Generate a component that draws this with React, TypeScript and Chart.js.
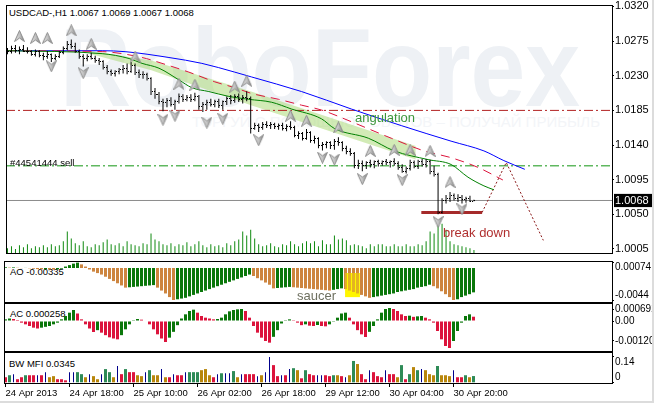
import React, { useEffect, useRef } from "react";
import { Chart, registerables } from "chart.js";

Chart.register(...registerables);

// ---------------- data ----------------
const TITLE = "USDCAD-,H1  1.0067 1.0069 1.0067 1.0068";
const ORDER_LABEL = "#44541444 sell";
const AO_LABEL = "AO -0.00335";
const AC_LABEL = "AC 0.000258";
const MFI_LABEL = "BW MFI 0.0345";

const OPEN = [
  1.0262, 1.0261, 1.0266, 1.0263, 1.0264, 1.0262, 1.0261, 1.0258, 1.0262, 1.0256,
  1.0255, 1.0257, 1.0253, 1.0255, 1.026, 1.0266, 1.0271, 1.0268, 1.0262, 1.0255,
  1.0253, 1.0255, 1.0253, 1.025, 1.0248, 1.0241, 1.0235, 1.0233, 1.0235, 1.0238,
  1.024, 1.0236, 1.0243, 1.0234, 1.0231, 1.0232, 1.0226, 1.0209, 1.0206, 1.0197,
  1.0195, 1.0198, 1.0193, 1.0196, 1.0203, 1.0199, 1.0202, 1.0199, 1.0203, 1.019,
  1.0193, 1.0195, 1.0193, 1.0197, 1.0191, 1.0196, 1.02, 1.0198, 1.0203, 1.0199,
  1.0202, 1.02, 1.0162, 1.0166, 1.0163, 1.0167, 1.0165, 1.0167, 1.0164, 1.0165,
  1.0162, 1.0164, 1.0163, 1.0153, 1.0155, 1.0149, 1.0156, 1.0146, 1.0148, 1.0139,
  1.0141, 1.0143, 1.014, 1.0145, 1.0143, 1.0135, 1.0132, 1.0129, 1.0113, 1.0116,
  1.0114, 1.0117, 1.0115, 1.0118, 1.0116, 1.0119, 1.0117, 1.0118, 1.0116, 1.0111,
  1.0106, 1.0109, 1.0117, 1.0112, 1.0119, 1.0115, 1.0118, 1.0106, 1.0102, 1.0053,
  1.0068, 1.007, 1.0074, 1.0071, 1.0072, 1.0069, 1.007, 1.0067,
];
const HIGH = [
  1.0266, 1.0269, 1.027, 1.0268, 1.027, 1.0267, 1.0263, 1.0264, 1.0263, 1.026,
  1.0262, 1.0259, 1.0258, 1.0262, 1.0268, 1.0275, 1.0277, 1.0273, 1.0264, 1.0258,
  1.0258, 1.026, 1.0256, 1.0253, 1.025, 1.0244, 1.0238, 1.0237, 1.024, 1.0244,
  1.0246, 1.0248, 1.0246, 1.0238, 1.0236, 1.0234, 1.0228, 1.0214, 1.0209, 1.02,
  1.0201, 1.0202, 1.0199, 1.0207, 1.0206, 1.0205, 1.0206, 1.0208, 1.0205, 1.0196,
  1.0199, 1.02, 1.0199, 1.02, 1.0198, 1.0203, 1.0205, 1.0206, 1.0207, 1.0205,
  1.021, 1.0203, 1.0169, 1.0168, 1.017, 1.0171, 1.017, 1.0169, 1.0168, 1.0169,
  1.0167, 1.0171, 1.0165, 1.0158, 1.0157, 1.0161, 1.0158, 1.0152, 1.015, 1.0144,
  1.0145, 1.0145, 1.0148, 1.015, 1.0145, 1.0139, 1.0136, 1.0131, 1.0121, 1.012,
  1.0119, 1.0121, 1.012, 1.0121, 1.012, 1.0122, 1.012, 1.0123, 1.0119, 1.0115,
  1.0112, 1.0121, 1.012, 1.0121, 1.0122, 1.0122, 1.0121, 1.0113, 1.0104, 1.0071,
  1.0075, 1.0079, 1.0077, 1.0076, 1.0075, 1.0073, 1.0074, 1.0069,
];
const LOW = [
  1.0258, 1.0259, 1.026, 1.0258, 1.0261, 1.0259, 1.0256, 1.0255, 1.0254, 1.025,
  1.0252, 1.0248, 1.025, 1.0253, 1.0258, 1.0263, 1.0265, 1.026, 1.0252, 1.0242,
  1.0249, 1.0251, 1.0247, 1.0244, 1.0238, 1.0232, 1.023, 1.0229, 1.0232, 1.0233,
  1.0232, 1.0234, 1.0231, 1.0227, 1.0226, 1.0224, 1.0205, 1.02, 1.0193, 1.0184,
  1.0189, 1.019, 1.0186, 1.0194, 1.0196, 1.0197, 1.0196, 1.0197, 1.0186, 1.0183,
  1.0186, 1.019, 1.0189, 1.0188, 1.0186, 1.0192, 1.0193, 1.0195, 1.0196, 1.0194,
  1.0197, 1.0155, 1.016, 1.0157, 1.016, 1.0162, 1.0161, 1.0161, 1.016, 1.0159,
  1.0158, 1.016, 1.015, 1.0148, 1.0146, 1.0147, 1.0143, 1.0142, 1.0136, 1.0133,
  1.0136, 1.0135, 1.0134, 1.0139, 1.0132, 1.0128, 1.0126, 1.011, 1.0109, 1.0106,
  1.0109, 1.0111, 1.011, 1.0112, 1.0113, 1.0114, 1.0111, 1.0113, 1.0108, 1.0104,
  1.0103, 1.0107, 1.011, 1.0109, 1.0112, 1.0111, 1.0102, 1.0099, 1.005, 1.0051,
  1.0064, 1.0066, 1.0068, 1.0066, 1.0064, 1.0065, 1.0066, 1.0067,
];
const CLOSE = [
  1.0261, 1.0266, 1.0263, 1.0264, 1.0262, 1.0261, 1.0258, 1.0262, 1.0256, 1.0255,
  1.0257, 1.0253, 1.0255, 1.026, 1.0266, 1.0271, 1.0268, 1.0262, 1.0255, 1.0253,
  1.0255, 1.0253, 1.025, 1.0248, 1.0241, 1.0235, 1.0233, 1.0235, 1.0238, 1.024,
  1.0236, 1.0243, 1.0234, 1.0231, 1.0232, 1.0226, 1.0209, 1.0206, 1.0197, 1.0195,
  1.0198, 1.0193, 1.0196, 1.0203, 1.0199, 1.0202, 1.0199, 1.0203, 1.019, 1.0193,
  1.0195, 1.0193, 1.0197, 1.0191, 1.0196, 1.02, 1.0198, 1.0203, 1.0199, 1.0202,
  1.02, 1.0162, 1.0166, 1.0163, 1.0167, 1.0165, 1.0167, 1.0164, 1.0165, 1.0162,
  1.0164, 1.0163, 1.0153, 1.0155, 1.0149, 1.0156, 1.0146, 1.0148, 1.0139, 1.0141,
  1.0143, 1.014, 1.0145, 1.0143, 1.0135, 1.0132, 1.0129, 1.0113, 1.0116, 1.0114,
  1.0117, 1.0115, 1.0118, 1.0116, 1.0119, 1.0117, 1.0118, 1.0116, 1.0111, 1.0106,
  1.0109, 1.0117, 1.0112, 1.0119, 1.0115, 1.0118, 1.0106, 1.0102, 1.0053, 1.0068,
  1.007, 1.0074, 1.0071, 1.0072, 1.0069, 1.007, 1.0067, 1.0068,
];
const VOLUME = [
  500, 700, 400, 800, 600, 900, 500, 700, 600, 800,
  600, 900, 700, 800, 1200, 2200, 1500, 1000, 800, 1200,
  700, 600, 900, 800, 1100, 1400, 900, 800, 1000, 700,
  1200, 900, 800, 700, 1000, 900, 2000, 1400, 1200, 900,
  800, 1000, 700, 900, 800, 1100, 700, 900, 1200, 800,
  600, 900, 700, 800, 600, 1000, 800, 1200, 1400, 2200,
  1800, 2400, 1500, 900, 700, 800, 1000, 700, 600, 900,
  800, 1200, 900, 700, 1000, 1200, 1000, 1200, 700, 1300,
  900, 900, 1800, 1400, 1500, 1300, 800, 900, 800, 700,
  500, 900, 700, 900, 900, 700, 700, 900, 700, 700,
  900, 700, 700, 900, 800, 1200, 2200, 2000, 3300, 3000,
  2400, 1200, 900, 800, 700, 600, 500, 300,
];

// Alligator lines (bar index, price)
const JAW_X = [0, 23.75, 29.5, 40.5, 48.75, 57, 61.25, 73.75, 86.25, 98.75, 111.25, 119.5, 124.5, 129.75];
const JAW_Y = [1.02625, 1.02625, 1.02613, 1.02537, 1.02461, 1.02347, 1.02284, 1.02095, 1.01868, 1.01653, 1.01451, 1.01324, 1.01198, 1.01085];
const TEETH_X = [0, 23.75, 33.75, 38.75, 45.5, 52, 57, 61.25, 68, 73.75, 78.75, 86.25, 96.25, 104.5, 111.25, 118, 124.25];
const TEETH_Y = [1.02625, 1.02613, 1.02537, 1.02461, 1.02347, 1.02221, 1.02145, 1.0207, 1.01994, 1.01918, 1.01855, 1.01703, 1.01489, 1.01324, 1.01236, 1.0111, 1.00946];
const LIPS_X = [0, 23.75, 30.5, 33.75, 38, 43, 46.25, 50.5, 55.5, 60.5, 66.25, 71.25, 78.75, 82, 90.5, 97, 105.5, 111.25, 115.5, 119.5, 122];
const LIPS_Y = [1.02625, 1.02587, 1.02524, 1.02461, 1.02398, 1.02246, 1.02145, 1.02095, 1.02032, 1.01994, 1.01956, 1.01868, 1.01741, 1.01615, 1.01489, 1.01324, 1.01211, 1.01148, 1.00983, 1.0087, 1.00819];

// Fractals
const FR_UP_X = [3, 7, 10, 16, 21, 32, 43, 47, 57, 60, 71, 75, 83, 91, 97, 101, 106, 111];
const FR_UP_Y = [1.02815, 1.0279, 1.0279, 1.0289, 1.02714, 1.0255, 1.02196, 1.02183, 1.02158, 1.02234, 1.0178, 1.01716, 1.01628, 1.01324, 1.01337, 1.01337, 1.01324, 1.0092];
const FR_DN_X = [11, 19, 39, 42, 50, 54, 63, 79, 82, 89, 99, 108, 114];
const FR_DN_Y = [1.02423, 1.02335, 1.01729, 1.0178, 1.01691, 1.01741, 1.01463, 1.01236, 1.01211, 1.00958, 1.00945, 1.00402, 1.00567];

// Levels and drawn objects
const RESIST_LEVEL = 1.0185;
const ORDER_LEVEL = 1.0113;
const BID = 1.0068;
const WEDGE_X = [20.6, 36.1, 61.1, 102.4];
const WEDGE_TOP = [1.02625, 1.02499, 1.02095, 1.01387];
const WEDGE_BOTTOM = [1.02587, 1.02373, 1.01918, 1.01211];
const BREAK_X = [103.8, 119.05];
const BREAK_LEVEL = 1.00525;
const PROJ_X = [119.05, 125.1, 134.4];
const PROJ_Y = [1.00525, 1.01173, 1.00162];

// Indicators
const AO = [
  0.0001, 0.00005, 0.00008, 0.00003, -0.00002, 0.00001, -0.00004, -0.0001, -0.00015, -0.00018,
  -0.00016, -0.0002, -0.00022, -0.00018, -0.0001, 0.0002, 0.0004, 0.0006, 0.00074, 0.0005,
  0.0002, -0.0002, -0.0005, -0.0007, -0.0009, -0.0012, -0.0015, -0.0018, -0.0021, -0.0024,
  -0.0027, -0.00265, -0.0026, -0.00255, -0.0025, -0.00245, -0.0024, -0.00235, -0.0027, -0.0031,
  -0.0035, -0.004, -0.0044, -0.0043, -0.0042, -0.0041, -0.0039, -0.0037, -0.0035, -0.0033,
  -0.0031, -0.0029, -0.0027, -0.0025, -0.0023, -0.0021, -0.0019, -0.0017, -0.0015, -0.0013,
  -0.0011, -0.0009, -0.0011, -0.0014, -0.0017, -0.002, -0.0023, -0.0028, -0.00275, -0.0027,
  -0.00265, -0.0026, -0.00265, -0.0027, -0.00275, -0.0028, -0.00285, -0.0029, -0.00295, -0.003,
  -0.00305, -0.0031, -0.003, -0.0029, -0.0028, -0.0029, -0.0031, -0.0033, -0.0035, -0.0037,
  -0.0039, -0.0041, -0.004, -0.0039, -0.0038, -0.0037, -0.0036, -0.0035, -0.0033, -0.0032,
  -0.0031, -0.003, -0.0029, -0.0027, -0.0026, -0.0025, -0.0023, -0.0025, -0.0028, -0.0032,
  -0.0036, -0.004, -0.0044, -0.0043, -0.004, -0.0038, -0.0036, -0.00335,
];
const AC = [
  0.0001, 0.00015, 0.00012, 0.00006, -0.0001, -0.0002, -0.0003, -0.0004, -0.00045, -0.0004,
  -0.00035, -0.0003, -0.0002, -0.0001, 0.0001, 0.0003, 0.0005, 0.00066, 0.00045, 0.0001,
  -0.0002, -0.00045, -0.00066, -0.00055, -0.0007, -0.00085, -0.00098, -0.00105, -0.0011, -0.00085,
  -0.0005, -0.0002, 0.00005, 0.00012, 0.00008, 0.00003, -0.0002, -0.0005, -0.0008, -0.00105,
  -0.00126, -0.001, -0.00065, -0.00025, 0.00015, 0.0004, 0.0006, 0.00068, 0.0005, 0.0003,
  0.0002, 0.00015, 0.0001, 0.00012, 0.0002, 0.0004, 0.00058, 0.00066, 0.0007, 0.00072,
  0.0006, 0.0002, -0.0003, -0.0007, -0.001, -0.0012, -0.0013, -0.00095, -0.00055, -0.00015,
  0.00005, 0.0001, 0.00005, -0.0001, -0.00025, -0.0002, -0.00028, -0.0003, -0.00024, -0.0003,
  -0.00032, -0.0002, -0.00005, 0.0002, 0.00045, 0.0005, 0.0002, -0.0002, -0.00055, -0.0008,
  -0.00096, -0.00065, -0.0003, 0.0001, 0.0005, 0.00072, 0.00078, 0.00072, 0.0006, 0.0004,
  0.0003, 0.00032, 0.00025, 0.00028, 0.0003, 0.0002, 0.0001, -0.0001, -0.0006, -0.0011,
  -0.0015, -0.00162, -0.0012, -0.0006, -0.0001, 0.0003, 0.0004, 0.000258,
];
const MFI = [
  0.028, 0.039, 0.045, 0.017, 0.028, 0.039, 0.039, 0.039, 0.039, 0.039,
  0.056, 0.028, 0.034, 0.017, 0.017, 0.011, 0.056, 0.056, 0.056, 0.045,
  0.028, 0.045, 0.034, 0.017, 0.045, 0.073, 0.056, 0.028, 0.09, 0.045,
  0.073, 0.056, 0.056, 0.039, 0.034, 0.056, 0.067, 0.039, 0.039, 0.073,
  0.028, 0.028, 0.045, 0.039, 0.039, 0.056, 0.056, 0.056, 0.056, 0.067,
  0.073, 0.039, 0.028, 0.045, 0.05, 0.05, 0.05, 0.062, 0.028, 0.045,
  0.045, 0.045, 0.045, 0.034, 0.039, 0.056, 0.14, 0.095, 0.034, 0.039,
  0.039, 0.073, 0.078, 0.067, 0.022, 0.067, 0.045, 0.039, 0.039, 0.039,
  0.039, 0.034, 0.039, 0.039, 0.034, 0.028, 0.039, 0.118, 0.101, 0.045,
  0.017, 0.067, 0.056, 0.034, 0.028, 0.067, 0.045, 0.045, 0.028, 0.095,
  0.017, 0.045, 0.084, 0.067, 0.073, 0.067, 0.045, 0.039, 0.09, 0.039,
  0.039, 0.034, 0.067, 0.028, 0.028, 0.039, 0.028, 0.0345,
];
// g = green (up/up), o = fade, b = fake, r = squat
const MFI_TYPE = [
  "r", "g", "b", "r", "r", "g", "r", "r", "b", "r",
  "b", "o", "o", "r", "r", "r", "b", "b", "g", "g",
  "o", "b", "o", "o", "b", "g", "g", "o", "b", "r",
  "g", "r", "r", "o", "o", "b", "g", "o", "o", "b",
  "o", "r", "b", "r", "r", "b", "g", "g", "g", "o",
  "o", "o", "r", "b", "g", "b", "b", "g", "o", "b",
  "r", "r", "r", "b", "o", "b", "b", "r", "r", "b",
  "r", "b", "g", "o", "r", "g", "r", "r", "b", "b",
  "r", "r", "g", "o", "r", "b", "o", "g", "o", "r",
  "r", "b", "r", "r", "r", "b", "r", "r", "o", "g",
  "r", "g", "o", "g", "b", "o", "o", "o", "g", "o",
  "o", "o", "b", "r", "r", "g", "o", "g",
];
const SAUCER_BOX = { x0: 84.9, x1: 88.6, top: -0.00069, bottom: -0.004 };

// Axis ticks / labels
const PRICE_TICKS = [1.032, 1.0275, 1.023, 1.0185, 1.014, 1.0095, 1.0068, 1.005, 1.0005];
const AO_TICKS = [0.00074, -0.0044];
const AO_TICK_LABELS = ["0.00074", "-0.0044"];
const AC_TICKS = [0.000692, 0, -0.0012];
const AC_TICK_LABELS = ["0.000692", "0.00", "-0.00120"];
const MFI_TICKS = [0.14, 0];
const MFI_TICK_LABELS = ["0.14", "0"];
const TIME_TICKS = [0, 16, 32, 48, 64, 80, 96, 112];
const TIME_LABELS = ["24 Apr 2013", "24 Apr 18:00", "25 Apr 10:00", "26 Apr 02:00", "26 Apr 18:00", "29 Apr 12:00", "30 Apr 04:00", "30 Apr 20:00"];

// ---------------- styles / scale ranges ----------------
const FONT = "'Liberation Sans', Arial, Helvetica, sans-serif";
const X_MIN = -0.375;
const X_MAX = 151.625;
const PRICE_MIN = 0.99998;
const PRICE_MAX = 1.03206;
const VOL_MAX = 25400;
const AO_MIN = -0.004675, AO_MAX = 0.000825;
const AC_MIN = -0.0018, AC_MAX = 0.00102;
const MFI_MIN = -0.0039, MFI_MAX = 0.162;
const AXIS_W = 42;
const C_GREEN = "#0a770a";
const C_ORANGE = "#cd853f";
const C_RED = "#dc143c";
const MFI_COLORS: any = { g: "#2e8b57", o: "#b8860b", b: "#00008b", r: "#dc143c" };

Chart.defaults.font.family = FONT;

const xHidden: any = { type: "linear", min: X_MIN, max: X_MAX, display: false, offset: false, grid: { offset: false } };

const noPad = (s: any) => {
  s.paddingTop = 0;
  s.paddingBottom = 0;
  s.paddingLeft = 0;
  s.paddingRight = 0;
};

function rightAxis(min: number, max: number, ticks: number[], labels: string[], extra: any = {}) {
  return {
    type: "linear",
    position: "right",
    min,
    max,
    weight: extra.weight ?? 1,
    afterBuildTicks: (s: any) => {
      s.ticks = ticks.map((v) => ({ value: v }));
    },
    afterFit: (s: any) => {
      s.width = extra.width ?? AXIS_W;
      noPad(s);
    },
    border: { display: false },
    grid: { drawOnChartArea: false, drawTicks: true, tickLength: 2, color: "#000" },
    ticks: {
      autoSkip: false,
      padding: 1,
      color: "#000",
      align: extra.align ?? "center",
      font: { family: FONT, size: extra.size ?? 10 },
      callback: (v: any) => labels[ticks.indexOf(v)],
    },
  };
}

// the zero-width inner axis shares the label column of the outer axis
const widenInner = {
  id: "widenInner",
  afterLayout(chart: any) {
    const s = chart.scales.yIn;
    if (s) s.right = s.left + AXIS_W;
  },
};

const framePlugin = {
  id: "frame",
  afterDraw(chart: any) {
    const { ctx, chartArea: a } = chart;
    ctx.save();
    ctx.strokeStyle = "#000";
    ctx.lineWidth = 1;
    const l = Math.round(a.left), t = Math.round(a.top), r = Math.round(a.right), b = Math.round(a.bottom);
    ctx.strokeRect(l + 0.5, t - 0.5, r - l, b - t + 1);
    ctx.restore();
  },
};

function makeArrow(up: boolean) {
  const c = document.createElement("canvas");
  c.width = 11;
  c.height = 12;
  const g = c.getContext("2d") as CanvasRenderingContext2D;
  g.beginPath();
  if (up) {
    g.moveTo(5.5, 0.5);
    g.lineTo(10.5, 11.5);
    g.lineTo(5.5, 8);
    g.lineTo(0.5, 11.5);
  } else {
    g.moveTo(5.5, 11.5);
    g.lineTo(10.5, 0.5);
    g.lineTo(5.5, 4);
    g.lineTo(0.5, 0.5);
  }
  g.closePath();
  const grad = g.createLinearGradient(0, 0, 11, 0);
  grad.addColorStop(0, "#e6e6e6");
  grad.addColorStop(0.5, "#c4c4c4");
  grad.addColorStop(1, "#7d7d7d");
  g.fillStyle = grad;
  g.fill();
  g.strokeStyle = "#8c8c8c";
  g.lineWidth = 1;
  g.stroke();
  return c;
}

const baseOptions = (padding: any) => ({
  responsive: false,
  animation: false,
  devicePixelRatio: 1,
  events: [],
  layout: { padding },
  plugins: { legend: { display: false }, tooltip: { enabled: false } },
});

const lineDs = (xs: number[], ys: number[], extra: any) => ({
  type: "line",
  data: xs.map((x, k) => ({ x, y: ys[k] })),
  pointRadius: 0,
  borderWidth: 1,
  fill: false,
  yAxisID: "y",
  ...extra,
});

export default function App() {
  const mainRef = useRef<HTMLCanvasElement>(null);
  const aoRef = useRef<HTMLCanvasElement>(null);
  const acRef = useRef<HTMLCanvasElement>(null);
  const mfiRef = useRef<HTMLCanvasElement>(null);

  useEffect(() => {
    const charts: Chart[] = [];
    const upImg = makeArrow(true);
    const dnImg = makeArrow(false);

    const ohlcTicks = {
      id: "ohlcTicks",
      afterDatasetsDraw(chart: any) {
        const xs = chart.scales.x, ys = chart.scales.y, ctx = chart.ctx;
        ctx.save();
        ctx.fillStyle = "#000";
        for (let i = 0; i < OPEN.length; i++) {
          const px = Math.floor(xs.getPixelForValue(i));
          ctx.fillRect(px - 1, Math.floor(ys.getPixelForValue(OPEN[i])), 1, 1);
          ctx.fillRect(px + 1, Math.floor(ys.getPixelForValue(CLOSE[i])), 1, 1);
        }
        ctx.restore();
      },
    };

    // ---------- main price chart ----------
    charts.push(
      new Chart(mainRef.current as HTMLCanvasElement, {
        type: "bar",
        data: {
          datasets: [
            { type: "line", data: FR_UP_X.map((x, k) => ({ x, y: FR_UP_Y[k] })), showLine: false, pointStyle: upImg, pointRadius: 5, yAxisID: "y", order: 0 },
            { type: "line", data: FR_DN_X.map((x, k) => ({ x, y: FR_DN_Y[k] })), showLine: false, pointStyle: dnImg, pointRadius: 5, yAxisID: "y", order: 0 },
            {
              type: "bar",
              data: HIGH.map((h, i) => ({ x: i, y: [LOW[i], h] })),
              backgroundColor: "#000",
              barThickness: 1,
              grouped: false,
              inflateAmount: 0,
              borderWidth: 0,
              yAxisID: "y",
              order: 1,
            },
            lineDs(LIPS_X, LIPS_Y, { borderColor: "#008000", cubicInterpolationMode: "monotone", order: 2 }),
            lineDs(TEETH_X, TEETH_Y, { borderColor: "#dc143c", borderDash: [9, 6], cubicInterpolationMode: "monotone", order: 2 }),
            lineDs(JAW_X, JAW_Y, { borderColor: "#0000ff", cubicInterpolationMode: "monotone", order: 2 }),
            lineDs(BREAK_X, [BREAK_LEVEL, BREAK_LEVEL], { borderColor: "#a52a2a", borderWidth: 3, order: 3 }),
            lineDs(PROJ_X, PROJ_Y, { borderColor: "#8b1a1a", borderDash: [2, 2], order: 3 }),
            lineDs([X_MIN, X_MAX], [BID, BID], { borderColor: "#8c8c8c", order: 5 }),
            lineDs([X_MIN, X_MAX], [RESIST_LEVEL, RESIST_LEVEL], { borderColor: "#b22222", borderDash: [9, 3, 2, 3], order: 5 }),
            lineDs([X_MIN, X_MAX], [ORDER_LEVEL, ORDER_LEVEL], { borderColor: "#129612", borderDash: [9, 3, 2, 3], order: 5 }),
            {
              type: "bar",
              data: VOLUME.map((v, i) => ({ x: i, y: v })),
              backgroundColor: "#108a10",
              barThickness: 1,
              grouped: false,
              inflateAmount: 0,
              borderWidth: 0,
              yAxisID: "yv",
              order: 6,
            },
            lineDs(WEDGE_X, WEDGE_TOP, { borderWidth: 0, borderColor: "rgba(0,0,0,0)", order: 7 }),
            lineDs(WEDGE_X, WEDGE_BOTTOM, { borderWidth: 0, borderColor: "rgba(0,0,0,0)", fill: "-1", backgroundColor: "rgba(165,215,110,0.5)", order: 7 }),
          ] as any,
        },
        options: {
          ...baseOptions({ left: 4, top: 4, right: 0, bottom: 1 }),
          scales: {
            x: xHidden,
            y: {
              type: "linear",
              position: "right",
              min: PRICE_MIN,
              max: PRICE_MAX,
              afterBuildTicks: (s: any) => {
                s.ticks = PRICE_TICKS.map((v) => ({ value: v }));
              },
              afterFit: (s: any) => {
                s.width = AXIS_W;
                noPad(s);
              },
              border: { display: false },
              grid: {
                drawOnChartArea: false,
                drawTicks: true,
                tickLength: 2,
                color: (c: any) => (c.tick && c.tick.value === BID ? "rgba(0,0,0,0)" : "#000"),
              },
              ticks: {
                autoSkip: false,
                padding: 1,
                font: { family: FONT, size: 11 },
                color: (c: any) => (c.tick && c.tick.value === BID ? "#fff" : "#000"),
                showLabelBackdrop: (c: any) => !!(c.tick && c.tick.value === BID),
                backdropColor: "#000",
                backdropPadding: { top: 0, bottom: 0, left: 1, right: 4 },
                callback: (v: any) => Number(v).toFixed(4),
              },
            },
            yv: { type: "linear", display: false, min: 0, max: VOL_MAX },
          },
        } as any,
        plugins: [ohlcTicks, framePlugin],
      })
    );

    // ---------- AO ----------
    const saucerPlugin = {
      id: "saucer",
      beforeDatasetsDraw(chart: any) {
        const xs = chart.scales.x, ys = chart.scales.y, ctx = chart.ctx;
        const x0 = xs.getPixelForValue(SAUCER_BOX.x0), x1 = xs.getPixelForValue(SAUCER_BOX.x1);
        const y0 = ys.getPixelForValue(SAUCER_BOX.top), y1 = ys.getPixelForValue(SAUCER_BOX.bottom);
        ctx.save();
        ctx.fillStyle = "#ffff00";
        ctx.fillRect(x0, y0, x1 - x0, y1 - y0);
        ctx.restore();
      },
      afterDatasetsDraw(chart: any) {
        const xs = chart.scales.x, ys = chart.scales.y, ctx = chart.ctx;
        const x0 = xs.getPixelForValue(SAUCER_BOX.x0), x1 = xs.getPixelForValue(SAUCER_BOX.x1);
        const y0 = ys.getPixelForValue(SAUCER_BOX.top), y1 = ys.getPixelForValue(SAUCER_BOX.bottom);
        ctx.save();
        ctx.fillStyle = "rgba(255,235,0,0.45)";
        ctx.fillRect(x0, y0, x1 - x0, y1 - y0);
        ctx.restore();
      },
    };
    const aoColors = AO.map((v, i) => (i === 0 || v > AO[i - 1] ? C_GREEN : C_ORANGE));
    charts.push(
      new Chart(aoRef.current as HTMLCanvasElement, {
        type: "bar",
        data: {
          datasets: [
            {
              data: AO.map((v, i) => ({ x: i, y: v })),
              backgroundColor: aoColors,
              barThickness: 3,
              grouped: false,
              inflateAmount: 0,
              borderWidth: 0,
              yAxisID: "y",
            },
          ] as any,
        },
        options: {
          ...baseOptions({ left: 4, top: 3, right: 0, bottom: 2 }),
          scales: {
            x: xHidden,
            y: rightAxis(AO_MIN, AO_MAX, [AO_TICKS[0]], [AO_TICK_LABELS[0]], { align: "start", weight: 1 }),
            yIn: rightAxis(AO_MIN, AO_MAX, [AO_TICKS[1]], [AO_TICK_LABELS[1]], { align: "end", weight: 0, width: 0 }),
          },
        } as any,
        plugins: [saucerPlugin, widenInner, framePlugin],
      })
    );

    // ---------- AC ----------
    const acColors = AC.map((v, i) => (i === 0 || v > AC[i - 1] ? C_GREEN : C_RED));
    charts.push(
      new Chart(acRef.current as HTMLCanvasElement, {
        type: "bar",
        data: {
          datasets: [
            {
              data: AC.map((v, i) => ({ x: i, y: v })),
              backgroundColor: acColors,
              barThickness: 3,
              grouped: false,
              inflateAmount: 0,
              borderWidth: 0,
              yAxisID: "y",
            },
          ] as any,
        },
        options: {
          ...baseOptions({ left: 4, top: 2, right: 0, bottom: 2 }),
          scales: {
            x: xHidden,
            y: rightAxis(AC_MIN, AC_MAX, AC_TICKS, AC_TICK_LABELS),
          },
        } as any,
        plugins: [framePlugin],
      })
    );

    // ---------- BW MFI ----------
    const wide = MFI.map((v, i) => ({ x: i, y: v })).filter((_, i) => MFI_TYPE[i] !== "b");
    const wideColors = MFI_TYPE.filter((t) => t !== "b").map((t) => MFI_COLORS[t]);
    const thin = MFI.map((v, i) => ({ x: i, y: v })).filter((_, i) => MFI_TYPE[i] === "b");
    charts.push(
      new Chart(mfiRef.current as HTMLCanvasElement, {
        type: "bar",
        data: {
          datasets: [
            { data: wide, backgroundColor: wideColors, barThickness: 3, grouped: false, inflateAmount: 0, borderWidth: 0, yAxisID: "y" },
            { data: thin, backgroundColor: MFI_COLORS.b, barThickness: 1, grouped: false, inflateAmount: 0, borderWidth: 0, yAxisID: "y" },
          ] as any,
        },
        options: {
          ...baseOptions({ left: 4, top: 2, right: 0, bottom: 3 }),
          scales: {
            x: {
              type: "linear",
              position: "bottom",
              min: X_MIN,
              max: X_MAX,
              offset: false,
              afterBuildTicks: (s: any) => {
                s.ticks = TIME_TICKS.map((v) => ({ value: v }));
              },
              afterFit: (s: any) => {
                s.height = 17;
                noPad(s);
              },
              border: { display: false },
              grid: { drawOnChartArea: false, drawTicks: true, tickLength: 4, color: "#000", offset: false },
              ticks: {
                autoSkip: false,
                maxRotation: 0,
                minRotation: 0,
                align: "start",
                padding: 1,
                color: "#000",
                font: { family: FONT, size: 9.5 },
                callback: (v: any) => TIME_LABELS[TIME_TICKS.indexOf(v)],
              },
            },
            y: rightAxis(MFI_MIN, MFI_MAX, [MFI_TICKS[0]], [MFI_TICK_LABELS[0]], { align: "start", weight: 1 }),
            yIn: rightAxis(MFI_MIN, MFI_MAX, [MFI_TICKS[1]], [MFI_TICK_LABELS[1]], { align: "end", weight: 0, width: 0 }),
          },
        } as any,
        plugins: [widenInner, framePlugin],
      })
    );

    return () => charts.forEach((c) => c.destroy());
  }, []);

  const abs = (extra: any): any => ({ position: "absolute", whiteSpace: "nowrap", pointerEvents: "none", fontFamily: FONT, lineHeight: 1, ...extra });

  return (
    <div style={{ position: "fixed", left: 0, top: 0, width: 654, height: 403, background: "#fff", overflow: "hidden" }}>
      {/* watermark */}
      <div style={abs({ left: 60, top: 12, fontSize: 112, fontWeight: "bold", color: "#eef1f5", transform: "scaleX(0.88)", transformOrigin: "left top", zIndex: 0 })}>RoboForex</div>
      <div style={abs({ right: 54, top: 114, fontSize: 15, color: "#f3f5f8", zIndex: 0 })}>ТОРГУЙ С ПОМОЩЬЮ РОБОТОВ – ПОЛУЧАЙ ПРИБЫЛЬ</div>

      {/* labels under the plots */}
      <div style={abs({ left: 9, top: 8, fontSize: 9.5, color: "#000", zIndex: 1 })}>{TITLE}</div>
      <div style={abs({ left: 10, top: 267, fontSize: 9.5, color: "#000", zIndex: 1 })}>{AO_LABEL}</div>
      <div style={abs({ left: 10, top: 309, fontSize: 9.5, color: "#000", zIndex: 1 })}>{AC_LABEL}</div>
      <div style={abs({ left: 9, top: 358.5, fontSize: 9.5, color: "#000", zIndex: 1 })}>{MFI_LABEL}</div>

      <canvas ref={mainRef} width={654} height={259} style={{ position: "absolute", left: 0, top: 0, zIndex: 2 }} />
      <canvas ref={aoRef} width={654} height={45} style={{ position: "absolute", left: 0, top: 259, zIndex: 2 }} />
      <canvas ref={acRef} width={654} height={51} style={{ position: "absolute", left: 0, top: 302, zIndex: 2 }} />
      <canvas ref={mfiRef} width={654} height={52} style={{ position: "absolute", left: 0, top: 351, zIndex: 2 }} />

      {/* annotations */}
      <div style={abs({ left: 10, top: 157.5, fontSize: 9.5, color: "#000", zIndex: 3 })}>{ORDER_LABEL}</div>
      <div style={abs({ left: 355, top: 111, fontSize: 13, color: "#3c963c", zIndex: 3 })}>angulation</div>
      <div style={abs({ left: 443, top: 225.5, fontSize: 13, color: "#b03030", zIndex: 3 })}>break down</div>
      <div style={abs({ left: 297, top: 288.5, fontSize: 13, color: "#6e7060", zIndex: 3 })}>saucer</div>

      {/* window frame */}
      <div style={{ position: "absolute", left: 652, top: 0, width: 2, height: 403, background: "#dcdcdc", zIndex: 4 }} />
      <div style={{ position: "absolute", left: 0, top: 401, width: 654, height: 2, background: "#dcdcdc", zIndex: 4 }} />
    </div>
  );
}
